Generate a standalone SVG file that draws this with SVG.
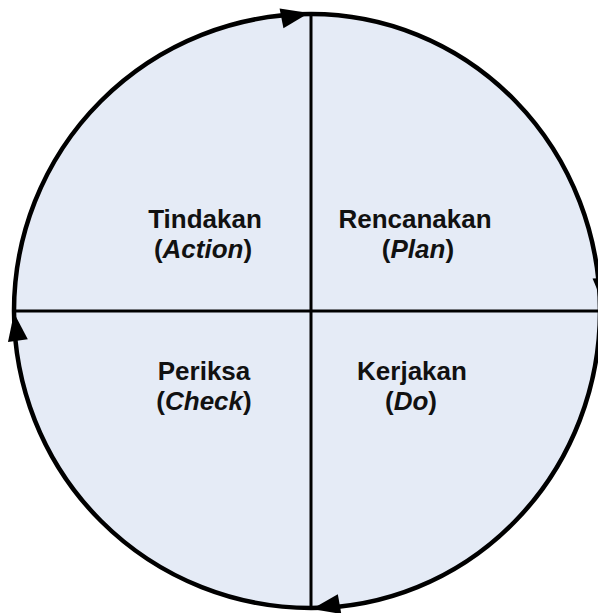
<svg xmlns="http://www.w3.org/2000/svg" xmlns:xlink="http://www.w3.org/1999/xlink" width="598" height="613" viewBox="0 0 598 613">
  <style>
    .bg { fill: #e5ebf6; stroke: none; }
    .axis { stroke: #000; stroke-width: 3; fill: none; }
    .arc { stroke: #000; stroke-width: 4.5; fill: none; }
    .lbl { font-family: "Liberation Sans", Arial, sans-serif; font-size: 26px; font-weight: bold; fill: #111; text-anchor: middle; }
    .it { font-style: italic; }
  </style>
  <defs>
    <path id="ah" d="M0,0 L-28,-10 L-28,10 Z" fill="#000"/>
  </defs>
  <rect width="598" height="613" fill="#fff"/>
  <g id="cycle">
    <path class="bg" d="M311,14 A289,297 0 0 1 600,311 A289,297 0 0 1 311,608 A297,297 0 0 1 14,311 A297,297 0 0 1 311,14 Z"/>
    <line class="axis" x1="311" y1="14" x2="311" y2="608"/>
    <line class="axis" x1="14" y1="311" x2="600" y2="311"/>
  </g>
  <g id="connectors">
    <path class="arc" d="M311,14 A289,297 0 0 1 600,311"/>
    <path class="arc" d="M600,311 A289,297 0 0 1 311,608"/>
    <path class="arc" d="M311,608 A297,297 0 0 1 14,311"/>
    <path class="arc" d="M14,311 A297,297 0 0 1 311,14"/>
    <use xlink:href="#ah" transform="translate(309,13) rotate(-11)"/>
    <use xlink:href="#ah" transform="translate(604,306) rotate(87)"/>
    <use xlink:href="#ah" transform="translate(312,609) rotate(170)"/>
    <use xlink:href="#ah" transform="translate(14,313) rotate(262)"/>
  </g>
  <g id="action">
    <text class="lbl" x="205" y="228">Tindakan</text>
    <text class="lbl" x="203" y="258">(<tspan class="it">Action</tspan>)</text>
  </g>
  <g id="plan">
    <text class="lbl" x="415" y="228">Rencanakan</text>
    <text class="lbl" x="418" y="258">(<tspan class="it">Plan</tspan>)</text>
  </g>
  <g id="check">
    <text class="lbl" x="204" y="380">Periksa</text>
    <text class="lbl" x="204" y="410">(<tspan class="it">Check</tspan>)</text>
  </g>
  <g id="do">
    <text class="lbl" x="412" y="380">Kerjakan</text>
    <text class="lbl" x="411" y="410">(<tspan class="it">Do</tspan>)</text>
  </g>
</svg>
